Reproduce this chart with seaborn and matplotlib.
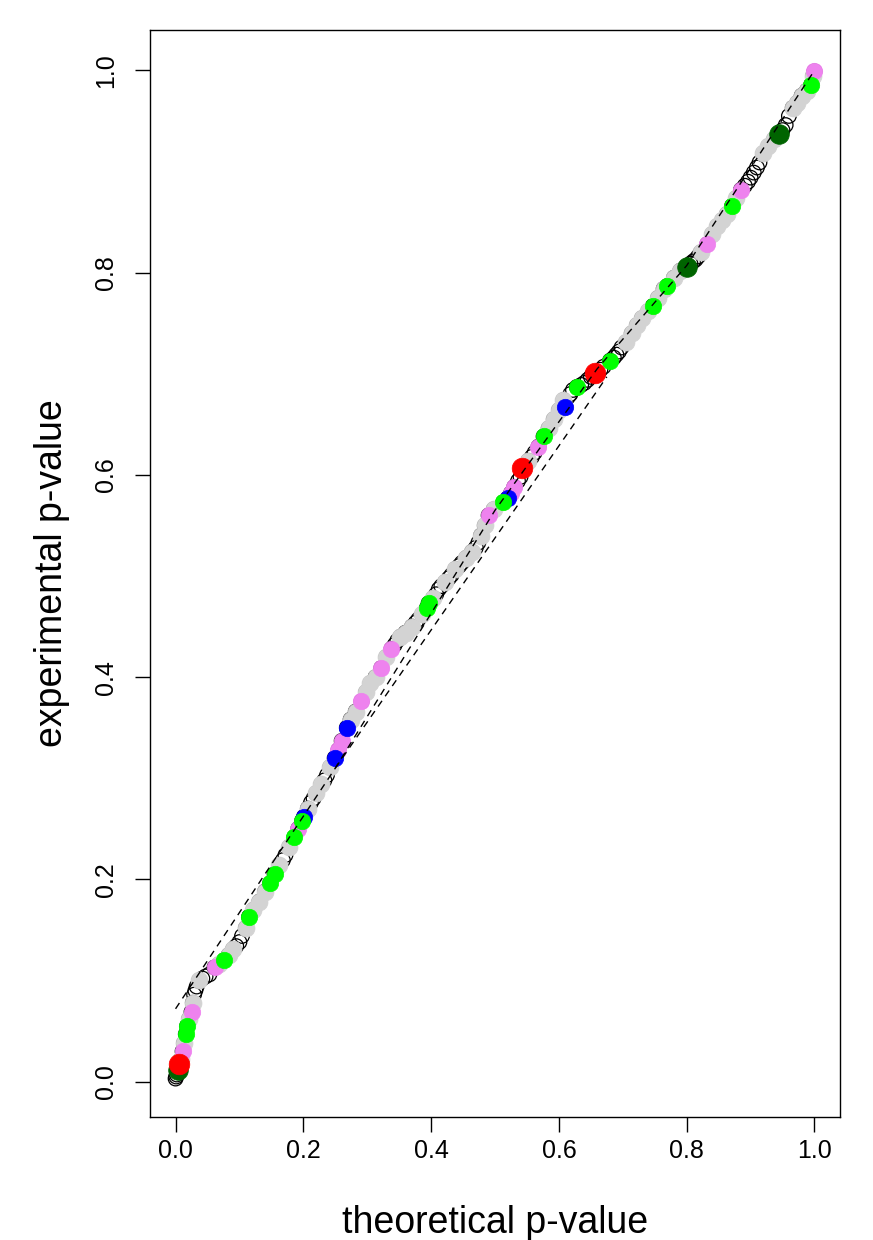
import pandas as pd
import matplotlib
matplotlib.use('Agg')
import matplotlib.pyplot as plt
import seaborn as sns

# points along the QQ curve: theoretical p, experimental p, highlight group
theoretical = [
    0.000, 0.001, 0.002, 0.004, 0.005, 0.008, 0.011, 0.013, 0.016, 0.018,
    0.021, 0.025, 0.027, 0.029, 0.031, 0.033, 0.037, 0.042, 0.047, 0.053,
    0.061, 0.068, 0.076, 0.083, 0.090, 0.095, 0.100, 0.104, 0.110, 0.115,
    0.122, 0.131, 0.140, 0.148, 0.155, 0.162, 0.168, 0.172, 0.178, 0.186,
    0.192, 0.198, 0.201, 0.207, 0.212, 0.216, 0.220, 0.228, 0.233, 0.237,
    0.242, 0.249, 0.255, 0.260, 0.268, 0.274, 0.282, 0.291, 0.298, 0.305,
    0.313, 0.322, 0.330, 0.338, 0.343, 0.347, 0.352, 0.360, 0.370, 0.376,
    0.380, 0.386, 0.393, 0.396, 0.403, 0.408, 0.412, 0.416, 0.422, 0.428,
    0.432, 0.438, 0.444, 0.448, 0.455, 0.464, 0.470, 0.474, 0.478, 0.484,
    0.490, 0.498, 0.513, 0.520, 0.525, 0.530, 0.536, 0.540, 0.543, 0.552,
    0.558, 0.562, 0.568, 0.576, 0.584, 0.592, 0.600, 0.607, 0.610, 0.618,
    0.622, 0.628, 0.635, 0.640, 0.645, 0.650, 0.657, 0.665, 0.670, 0.680,
    0.686, 0.690, 0.694, 0.698, 0.705, 0.714, 0.722, 0.730, 0.740, 0.747,
    0.755, 0.764, 0.770, 0.780, 0.790, 0.800, 0.806, 0.810, 0.814, 0.818,
    0.822, 0.832, 0.840, 0.848, 0.856, 0.863, 0.871, 0.878, 0.885, 0.891,
    0.896, 0.900, 0.905, 0.910, 0.914, 0.920, 0.928, 0.937, 0.945, 0.950,
    0.955, 0.960, 0.966, 0.973, 0.980, 0.988, 0.995, 0.998, 1.000,
]
experimental = [
    0.003, 0.005, 0.007, 0.011, 0.017, 0.022, 0.030, 0.038, 0.047, 0.055,
    0.062, 0.069, 0.078, 0.086, 0.090, 0.094, 0.100, 0.102, 0.104, 0.106,
    0.113, 0.116, 0.120, 0.125, 0.131, 0.134, 0.138, 0.144, 0.152, 0.163,
    0.170, 0.178, 0.188, 0.196, 0.205, 0.214, 0.219, 0.224, 0.232, 0.242,
    0.250, 0.258, 0.262, 0.270, 0.276, 0.280, 0.285, 0.294, 0.298, 0.303,
    0.311, 0.320, 0.328, 0.337, 0.350, 0.358, 0.366, 0.376, 0.385, 0.394,
    0.400, 0.409, 0.420, 0.428, 0.432, 0.436, 0.440, 0.444, 0.450, 0.454,
    0.457, 0.462, 0.468, 0.473, 0.478, 0.482, 0.487, 0.490, 0.494, 0.498,
    0.501, 0.507, 0.510, 0.513, 0.518, 0.524, 0.528, 0.533, 0.540, 0.550,
    0.560, 0.566, 0.573, 0.577, 0.582, 0.588, 0.594, 0.598, 0.607, 0.614,
    0.618, 0.622, 0.628, 0.638, 0.646, 0.655, 0.664, 0.674, 0.667, 0.680,
    0.684, 0.687, 0.689, 0.691, 0.694, 0.697, 0.701, 0.704, 0.707, 0.713,
    0.716, 0.719, 0.722, 0.726, 0.731, 0.740, 0.748, 0.755, 0.762, 0.767,
    0.775, 0.784, 0.787, 0.795, 0.802, 0.806, 0.809, 0.811, 0.813, 0.816,
    0.820, 0.828, 0.838, 0.846, 0.852, 0.858, 0.866, 0.874, 0.882, 0.886,
    0.890, 0.894, 0.899, 0.904, 0.909, 0.918, 0.925, 0.932, 0.937, 0.941,
    0.946, 0.955, 0.963, 0.968, 0.975, 0.980, 0.986, 0.995, 0.999,
]
group = [
    'none', 'none', 'none', 'darkgreen', 'red', 'gray', 'violet', 'gray', 'green', 'green',
    'gray', 'violet', 'gray', 'none', 'none', 'none', 'gray', 'none', 'none', 'none',
    'violet', 'gray', 'green', 'gray', 'gray', 'none', 'none', 'none', 'gray', 'green',
    'gray', 'gray', 'gray', 'green', 'green', 'gray', 'none', 'none', 'gray', 'green',
    'violet', 'green', 'blue', 'gray', 'none', 'none', 'gray', 'gray', 'none', 'none',
    'gray', 'blue', 'violet', 'violet', 'blue', 'gray', 'gray', 'violet', 'gray', 'gray',
    'gray', 'violet', 'gray', 'violet', 'none', 'none', 'gray', 'gray', 'gray', 'none',
    'none', 'gray', 'green', 'green', 'gray', 'none', 'none', 'none', 'gray', 'none',
    'none', 'gray', 'none', 'none', 'gray', 'gray', 'none', 'none', 'gray', 'gray',
    'violet', 'gray', 'green', 'blue', 'violet', 'violet', 'none', 'none', 'red', 'gray',
    'none', 'none', 'violet', 'green', 'gray', 'gray', 'gray', 'gray', 'blue', 'none',
    'none', 'green', 'none', 'none', 'none', 'none', 'red', 'none', 'none', 'green',
    'none', 'none', 'none', 'none', 'gray', 'gray', 'gray', 'gray', 'gray', 'green',
    'gray', 'gray', 'green', 'gray', 'gray', 'darkgreen', 'none', 'none', 'none', 'none',
    'gray', 'violet', 'gray', 'gray', 'gray', 'gray', 'green', 'gray', 'violet', 'none',
    'none', 'none', 'none', 'none', 'none', 'gray', 'gray', 'gray', 'darkgreen', 'none',
    'none', 'none', 'gray', 'gray', 'gray', 'gray', 'green', 'gray', 'violet',
]

# dashed reference lines
ref_x = [0.0, 0.25, 0.50, 0.66, 0.80, 1.0]
ref_y = [0.072, 0.31, 0.565, 0.705, 0.807, 1.0]
ref2_x = [0.25, 0.675]
ref2_y = [0.31, 0.697]

xticks = [0.0, 0.2, 0.4, 0.6, 0.8, 1.0]
tick_labels = ['0.0', '0.2', '0.4', '0.6', '0.8', '1.0']

colors = {'gray': '#D3D3D3', 'violet': '#EE82EE', 'blue': '#0000FF',
          'green': '#00FF00', 'darkgreen': '#006400', 'red': '#FF0000'}
sizes = {'gray': 150, 'violet': 140, 'blue': 140, 'green': 140,
         'darkgreen': 200, 'red': 220}

df = pd.DataFrame({'theoretical': theoretical, 'experimental': experimental,
                   'group': group})

sns.set_style('white')
plt.rcParams['font.family'] = ['Liberation Sans', 'DejaVu Sans']
plt.rcParams['text.color'] = 'black'
plt.rcParams['axes.labelcolor'] = 'black'
plt.rcParams['xtick.color'] = 'black'
plt.rcParams['ytick.color'] = 'black'

fig = plt.figure(figsize=(8.73, 12.4), dpi=100)
ax = fig.add_axes([150 / 873, 123 / 1240, 690 / 873, 1087 / 1240])

# every point as an open black circle
sns.scatterplot(data=df, x='theoretical', y='experimental', ax=ax,
                s=110, facecolors='none', edgecolor='black', linewidth=0.9,
                zorder=2)

for i, g in enumerate(['gray', 'violet', 'blue', 'green', 'darkgreen', 'red']):
    sub = df[df['group'] == g]
    sns.scatterplot(data=sub, x='theoretical', y='experimental', ax=ax,
                    s=sizes[g], color=colors[g], edgecolor=colors[g],
                    linewidth=0.5, zorder=3 + i)

ax.plot(ref_x, ref_y, color='black', linestyle=(0, (5, 4)), linewidth=1.0,
        zorder=10)
ax.plot(ref2_x, ref2_y, color='black', linestyle=(0, (5, 4)), linewidth=1.0,
        zorder=10)

ax.set_xlim(-0.04, 1.04)
ax.set_ylim(-0.035, 1.04)
ax.set_xticks(xticks)
ax.set_xticklabels(tick_labels)
ax.set_yticks(xticks)
ax.set_yticklabels(tick_labels, rotation=90, va='center')
ax.tick_params(axis='both', direction='out', length=11, width=1.0,
               labelsize=18, colors='black', bottom=True, left=True)
ax.tick_params(axis='x', pad=5)
ax.tick_params(axis='y', pad=12)
for sp in ax.spines.values():
    sp.set_color('black')
    sp.set_linewidth(1.0)

ax.set_xlabel('theoretical p-value', fontsize=27, labelpad=30, color='black')
ax.set_ylabel('experimental p-value', fontsize=27, labelpad=17, color='black')

fig.savefig('out.png', dpi=100, facecolor='white')
